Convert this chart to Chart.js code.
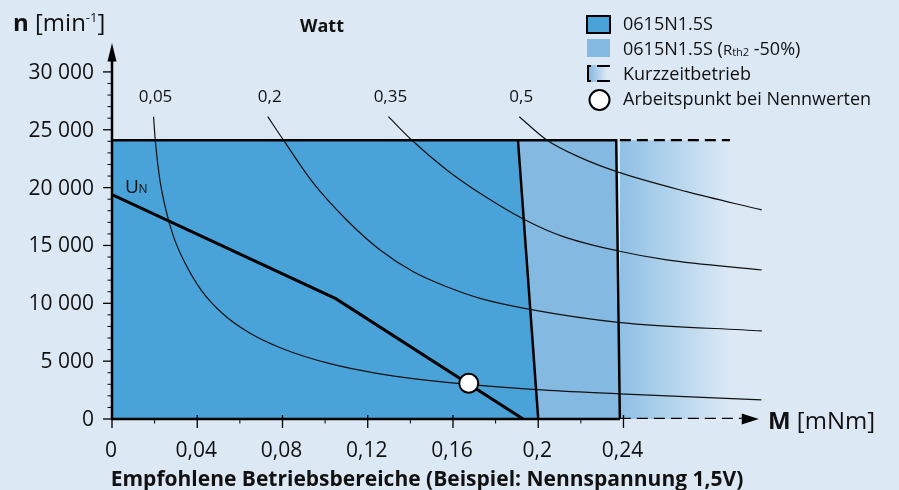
<!DOCTYPE html>
<html>
<head>
<meta charset="utf-8">
<script src="https://cdn.jsdelivr.net/npm/chart.js@4.4.1/dist/chart.umd.min.js"></script>
<style>
  html, body { margin: 0; padding: 0; background: #dce9f5; }
  #wrap { position: relative; width: 899px; height: 490px; }
</style>
</head>
<body>
<div id="wrap"><canvas id="kennlinie"></canvas></div>
<script>
// ============================================================================
// Daten – M in mNm, n in min-1
// ============================================================================
const X_MAX = 0.305;
const Y_MAX = 32500;

const xTicks = [0, 0.04, 0.08, 0.12, 0.16, 0.2, 0.24];
const xTickLabels = ['0', '0,04', '0,08', '0,12', '0,16', '0,2', '0,24'];
const xMinorTicks = [0.02, 0.06, 0.10, 0.14, 0.18, 0.22];
const yTicks = [0, 5000, 10000, 15000, 20000, 25000, 30000];
const yTickLabels = ['0', '5 000', '10 000', '15 000', '20 000', '25 000', '30 000'];

// Betriebsbereiche
const bereichDauer = [[0, 24100], [0.1905, 24100], [0.2, 0]];
const bereichRth2 = [[0.1905, 24100], [0.2366, 24100], [0.2383, 0]];
const bereichKurz = [[0.2383, 24100], [0.29, 24100]];
const kurzOben = [[0.2383, 24100], [0.29, 24100]];
const kurzUnten = [[0.2383, 0], [0.2955, 0]];

// Leistungskurven (Watt)
const wattLabels = ['0,05', '0,2', '0,35', '0,5'];
const watt005 = [[0.0195, 26120], [0.0203, 24100], [0.0222, 21000], [0.0250, 18300], [0.0290, 15700],
                 [0.0342, 13500], [0.0420, 11100], [0.0520, 9100], [0.0640, 7500], [0.0804, 6050],
                 [0.1023, 4780], [0.1242, 3950], [0.1538, 3225], [0.1992, 2540], [0.2383, 2180],
                 [0.3047, 1645]];
const watt02 = [[0.0731, 26130], [0.0804, 24120], [0.0945, 20380], [0.1101, 17200], [0.1258, 14610],
                [0.1414, 12730], [0.1571, 11430], [0.1727, 10430], [0.1961, 9480], [0.2376, 8360],
                [0.3049, 7610]];
const watt035 = [[0.1297, 26130], [0.1406, 24120], [0.1571, 21530], [0.1727, 19510], [0.1930, 17290],
                 [0.2118, 15760], [0.2376, 14520], [0.2603, 13750], [0.3049, 12880]];
const watt05 = [[0.1911, 26130], [0.2040, 24120], [0.2196, 22610], [0.2368, 21380], [0.2697, 19650],
                [0.3049, 18070]];

// Kennlinie bei Nennspannung und Arbeitspunkt
const unLinie = [[0, 19400], [0.1050, 10400], [0.1929, 0]];
const arbeitspunkt = [[0.1674, 3090]];

const legendLabels = ['0615N1.5S', '0615N1.5S (', 'Kurzzeitbetrieb', 'Arbeitspunkt bei Nennwerten'];

const DUNKEL = '#49a3d9';
const HELL = '#84b9e1';
const HINTERGRUND = '#dce9f5';
const KURZ_START = '#8fc0e5';
const SCHRIFT = '"Open Sans", "Noto Sans", sans-serif';

const pts = arr => arr.map(([x, y]) => ({ x: x, y: y }));

function kurzGradient(context) {
    const chart = context.chart;
    if (!chart.chartArea) return KURZ_START;
    const xs = chart.scales.x;
    const g = chart.ctx.createLinearGradient(xs.getPixelForValue(bereichKurz[0][0]), 0,
                                             xs.getPixelForValue(bereichKurz[1][0]), 0);
    g.addColorStop(0, KURZ_START);
    g.addColorStop(1, HINTERGRUND);
    return g;
}

// ============================================================================
// Achsen, Beschriftungen und Legende
// ============================================================================
const achsenPlugin = {
    id: 'achsen',
    beforeDraw(chart) {
        const c = chart.ctx;
        c.save();
        c.fillStyle = HINTERGRUND;
        c.fillRect(0, 0, chart.width, chart.height);
        c.restore();
    },
    afterDatasetsDraw(chart) {
        const c = chart.ctx;
        const xs = chart.scales.x, ys = chart.scales.y;
        const x0 = xs.getPixelForValue(0), y0 = ys.getPixelForValue(0);
        c.save();
        c.strokeStyle = '#000';
        c.fillStyle = '#000';

        // y-Achse mit Pfeil
        c.lineWidth = 2.5;
        c.beginPath();
        c.moveTo(x0, y0);
        c.lineTo(x0, ys.getPixelForValue(31000));
        c.stroke();
        c.beginPath();
        c.moveTo(x0, ys.getPixelForValue(Y_MAX));
        c.lineTo(x0 - 4.5, ys.getPixelForValue(30900));
        c.lineTo(x0 + 4.5, ys.getPixelForValue(30900));
        c.closePath();
        c.fill();

        // x-Achse (durchgezogen bis Kurzzeitbereich) mit Pfeil
        c.beginPath();
        c.moveTo(x0 - 1, y0);
        c.lineTo(xs.getPixelForValue(kurzUnten[0][0]), y0);
        c.stroke();
        const tip = xs.getPixelForValue(0.3035);
        c.beginPath();
        c.moveTo(tip, y0);
        c.lineTo(xs.getPixelForValue(0.2955), y0 - 5.5);
        c.lineTo(xs.getPixelForValue(0.2955), y0 + 5.5);
        c.closePath();
        c.fill();

        // Teilstriche
        c.lineWidth = 1.3;
        yTicks.forEach(v => {
            const y = ys.getPixelForValue(v);
            c.beginPath(); c.moveTo(x0 - 9, y); c.lineTo(x0, y); c.stroke();
        });
        c.lineWidth = 1;
        for (let v = 1000; v < 30000; v += 1000) {
            if (v % 5000 === 0) continue;
            const y = ys.getPixelForValue(v);
            c.beginPath(); c.moveTo(x0 - 4.5, y); c.lineTo(x0, y); c.stroke();
        }
        c.lineWidth = 1.3;
        xTicks.forEach(v => {
            const x = xs.getPixelForValue(v);
            c.beginPath(); c.moveTo(x, y0 - 4); c.lineTo(x, y0 + 9); c.stroke();
        });
        c.lineWidth = 1;
        xMinorTicks.forEach(v => {
            const x = xs.getPixelForValue(v);
            c.beginPath(); c.moveTo(x, y0); c.lineTo(x, y0 + 4.5); c.stroke();
        });

        // Teilstrich-Beschriftungen
        c.fillStyle = '#111';
        c.font = '21px ' + SCHRIFT;
        c.textAlign = 'right';
        c.textBaseline = 'middle';
        yTicks.forEach((v, i) => c.fillText(yTickLabels[i], 94, ys.getPixelForValue(v) + 1));
        c.textAlign = 'center';
        c.textBaseline = 'alphabetic';
        xTicks.forEach((v, i) => c.fillText(xTickLabels[i], xs.getPixelForValue(v) - 1, 457));

        // Achsentitel
        c.textAlign = 'left';
        c.font = 'bold 24px ' + SCHRIFT;
        c.fillText('n', 13, 31);
        let w = c.measureText('n').width;
        c.font = '24px ' + SCHRIFT;
        c.fillText(' [min', 13 + w, 31);
        w += c.measureText(' [min').width;
        c.font = '13px ' + SCHRIFT;
        c.fillText('-1', 13 + w, 22);
        w += c.measureText('-1').width;
        c.font = '24px ' + SCHRIFT;
        c.fillText(']', 13 + w, 31);

        c.font = 'bold 24px ' + SCHRIFT;
        c.fillText('M', 768, 429);
        w = c.measureText('M').width;
        c.font = '24px ' + SCHRIFT;
        c.fillText(' [mNm]', 768 + w, 429);

        c.font = 'bold 18px ' + SCHRIFT;
        c.textAlign = 'center';
        c.fillText('Watt', 322, 32);

        c.font = 'bold 21px ' + SCHRIFT;
        c.fillText('Empfohlene Betriebsbereiche (Beispiel: Nennspannung 1,5V)', 427, 486);

        // Leistungskurven-Beschriftung über dem ersten Punkt
        c.font = '17px ' + SCHRIFT;
        [watt005, watt02, watt035, watt05].forEach((k, i) => {
            c.fillText(wattLabels[i], xs.getPixelForValue(k[0][0]) + 2, ys.getPixelForValue(k[0][1]) - 15);
        });

        // U_N
        c.textAlign = 'left';
        const ux = xs.getPixelForValue(unLinie[0][0]) + 13;
        const uy = ys.getPixelForValue(unLinie[0][1]) - 2;
        c.font = '19px ' + SCHRIFT;
        c.fillText('U', ux, uy);
        c.font = '12px ' + SCHRIFT;
        c.fillText('N', ux + c.measureText('U').width * 1.55, uy);

        // Legende
        const lx = 587, tx = 623;
        c.fillStyle = DUNKEL;
        c.fillRect(lx, 16, 23, 17);
        c.lineWidth = 2;
        c.strokeStyle = '#000';
        c.strokeRect(lx, 16, 23, 17);
        c.fillStyle = HELL;
        c.fillRect(lx, 39, 23, 18);
        const lg = c.createLinearGradient(lx, 0, lx + 20, 0);
        lg.addColorStop(0, '#7db4e0');
        lg.addColorStop(1, HINTERGRUND);
        c.fillStyle = lg;
        c.fillRect(lx, 65, 23, 17);
        c.lineWidth = 2;
        c.beginPath();
        c.moveTo(lx + 4, 66); c.lineTo(lx + 1, 66); c.lineTo(lx + 1, 81); c.lineTo(lx + 4, 81);
        c.stroke();
        c.beginPath();
        c.moveTo(lx + 10, 66); c.lineTo(lx + 23, 66);
        c.moveTo(lx + 10, 81); c.lineTo(lx + 23, 81);
        c.stroke();
        c.beginPath();
        c.arc(lx + 12.5, 100, 10, 0, Math.PI * 2);
        c.fillStyle = '#fff';
        c.fill();
        c.stroke();

        c.fillStyle = '#111';
        c.font = '18px ' + SCHRIFT;
        c.textBaseline = 'middle';
        c.fillText(legendLabels[0], tx, 25);
        c.fillText(legendLabels[1], tx, 50);
        let lw = c.measureText(legendLabels[1]).width;
        c.font = '15px ' + SCHRIFT;
        c.fillText('R', tx + lw, 51);
        lw += c.measureText('R').width;
        c.font = '11px ' + SCHRIFT;
        c.fillText('th2', tx + lw, 53);
        lw += c.measureText('th2').width;
        c.font = '18px ' + SCHRIFT;
        c.fillText(' -50%)', tx + lw, 50);
        c.fillText(legendLabels[2], tx, 75);
        c.fillText(legendLabels[3], tx, 100);

        c.restore();
    }
};

// ============================================================================
// Diagramm
// ============================================================================
const kurve = (data, order) => ({
    data: pts(data),
    borderColor: '#111',
    borderWidth: 1.2,
    pointRadius: 0,
    fill: false,
    cubicInterpolationMode: 'monotone',
    order: order
});

const ctx = document.getElementById('kennlinie').getContext('2d');
new Chart(ctx, {
    type: 'line',
    data: {
        datasets: [
            {
                data: pts(arbeitspunkt),
                showLine: false,
                pointRadius: 9.5,
                pointBackgroundColor: '#fff',
                pointBorderColor: '#000',
                pointBorderWidth: 2,
                order: 1
            },
            {
                data: pts(unLinie),
                borderColor: '#000',
                borderWidth: 3,
                pointRadius: 0,
                tension: 0,
                fill: false,
                order: 2
            },
            kurve(watt005, 4),
            kurve(watt02, 4),
            kurve(watt035, 4),
            kurve(watt05, 4),
            {
                data: pts(kurzOben),
                borderColor: '#000',
                borderWidth: 2.3,
                borderDash: [11, 6],
                pointRadius: 0,
                fill: false,
                order: 5
            },
            {
                data: pts(kurzUnten),
                borderColor: '#000',
                borderWidth: 2.3,
                borderDash: [11, 6],
                pointRadius: 0,
                fill: false,
                order: 5
            },
            {
                data: pts(bereichDauer),
                borderColor: '#000',
                borderWidth: 2.5,
                backgroundColor: DUNKEL,
                pointRadius: 0,
                tension: 0,
                fill: 'origin',
                order: 7
            },
            {
                data: pts(bereichRth2),
                borderColor: '#000',
                borderWidth: 2.5,
                backgroundColor: HELL,
                pointRadius: 0,
                tension: 0,
                fill: 'origin',
                order: 8
            },
            {
                data: pts(bereichKurz),
                borderWidth: 0,
                borderColor: 'rgba(0,0,0,0)',
                backgroundColor: kurzGradient,
                pointRadius: 0,
                fill: 'origin',
                order: 9
            }
        ]
    },
    options: {
        responsive: true,
        maintainAspectRatio: false,
        animation: false,
        events: [],
        layout: { padding: { left: 112, right: 137, top: 43, bottom: 71 } },
        plugins: {
            legend: { display: false },
            tooltip: { enabled: false }
        },
        scales: {
            x: { type: 'linear', min: 0, max: X_MAX, display: false },
            y: { type: 'linear', min: 0, max: Y_MAX, display: false }
        }
    },
    plugins: [achsenPlugin]
});
</script>
</body>
</html>
